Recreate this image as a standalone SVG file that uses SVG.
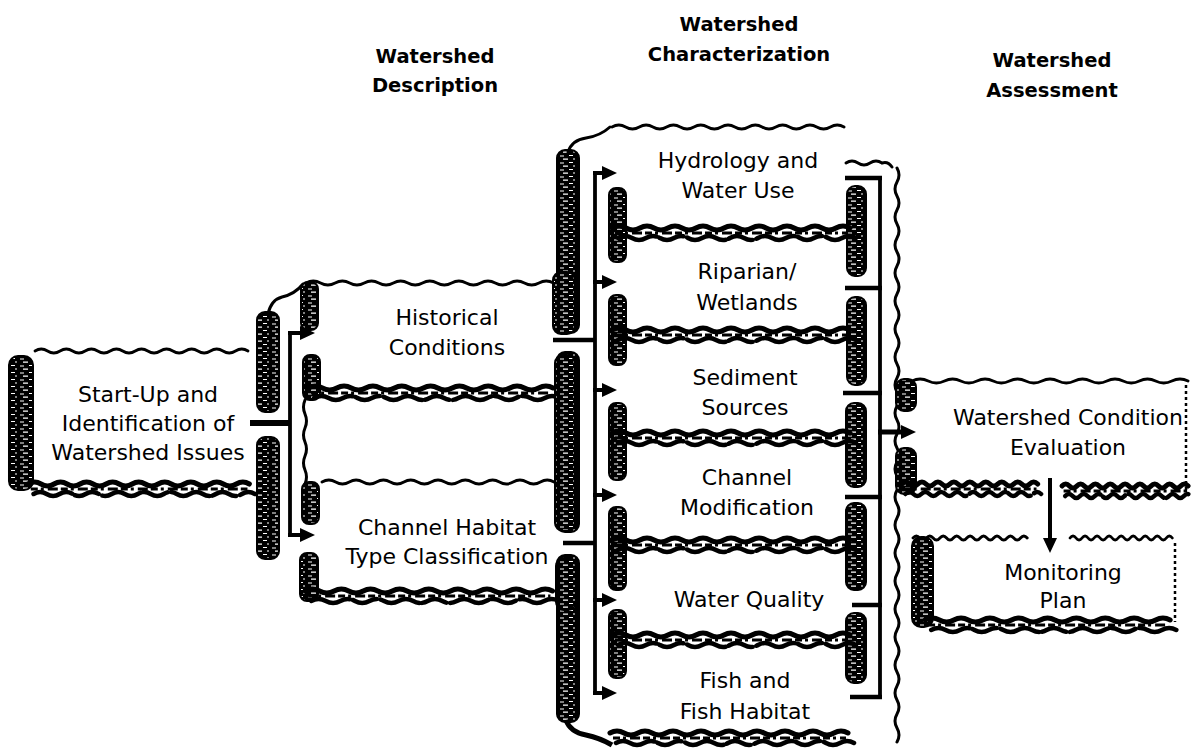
<svg xmlns="http://www.w3.org/2000/svg" xmlns:xlink="http://www.w3.org/1999/xlink" width="1192" height="751" viewBox="0 0 1192 751">
<style>
.wave{stroke-width:2.8}
.bw1{stroke-width:5}
.bw2{stroke-width:4.5;stroke-dasharray:40 3 25 4}
.bd{fill:none;stroke:#000;stroke-width:3;stroke-dasharray:7 3 3 4 10 3}
.hb{fill:url(#hp);stroke:#000;stroke-width:2}
.ln{fill:none;stroke:#000;stroke-width:4.5;stroke-linecap:butt}
.bus{fill:none;stroke:#000;stroke-width:3.8}
.arr{fill:none;stroke:#000;stroke-width:4;marker-end:url(#ah)}
.dot{fill:none;stroke:#000;stroke-width:2.5;stroke-dasharray:3 3}
.cur{fill:none;stroke:#000;stroke-width:3;stroke-linecap:round}
.t{font-family:"DejaVu Sans","Liberation Sans",sans-serif;font-size:22px;text-anchor:middle;fill:#000}
.h{font-family:"DejaVu Sans","Liberation Sans",sans-serif;font-size:19.5px;font-weight:bold;text-anchor:middle;fill:#000}
</style>
<defs>
<path id="wv" fill="none" stroke="#000" stroke-linecap="round" vector-effect="non-scaling-stroke" d="M0,0 q7,-4 14,0 t14,0 t14,0 t14,0 t14,0 t14,0 t14,0 t14,0 t14,0 t14,0 t14,0 t14,0 t14,0 t14,0 t14,0 t14,0 t14,0"/>
<g id="band">
<use xlink:href="#wv" href="#wv" class="bw1"/>
<use xlink:href="#wv" href="#wv" class="bw2" transform="translate(6,10)"/>
<path d="M3,5 H236" class="bd" vector-effect="non-scaling-stroke"/>
</g>
<pattern id="hp" width="18" height="7" patternUnits="userSpaceOnUse">
<rect width="18" height="7" fill="#000"/>
<path d="M2,2 h4 M11,1.5 h4 M5,5.2 h5 M15,5 h2" stroke="#fff" stroke-width="1.2"/>
</pattern>
<marker id="ah" markerWidth="16" markerHeight="15" refX="5" refY="7" orient="auto" markerUnits="userSpaceOnUse">
<path d="M0,0 L15,7 L0,14 z" fill="#000"/>
</marker>
</defs>
<rect width="1192" height="751" fill="#fff"/>

<g id="headers">
<text class="h" x="435" y="63">Watershed</text>
<text class="h" x="435" y="92">Description</text>
<text class="h" x="739" y="31">Watershed</text>
<text class="h" x="739" y="61">Characterization</text>
<text class="h" x="1052" y="67">Watershed</text>
<text class="h" x="1052" y="97">Assessment</text>
</g>

<g id="description-frame">
<rect class="hb" x="257" y="312" width="22" height="100" rx="8"/>
<rect class="hb" x="257" y="437" width="22" height="122" rx="8"/>
<path class="cur" d="M268,314 q3,-14 14,-17 q13,-3 21,-13"/>
<path class="cur" d="M305,400 q-3,7 0,14 t0,14 t0,14 t0,14 t0,14 t0,14"/>
</g>

<g id="characterization-frame">
<rect class="hb" x="557" y="150" width="22" height="183" rx="8"/>
<rect class="hb" x="557" y="352" width="22" height="180" rx="8"/>
<rect class="hb" x="557" y="555" width="22" height="167" rx="8"/>
<path class="cur" d="M568,152 q4,-12 18,-14 q14,-2 24,-11"/>
<path class="bw1" fill="none" stroke="#000" d="M566,720 q4,12 20,15 q14,3 26,10"/>
<path class="cur" d="M846,163 q6,-4 12,0 t12,0 t12,0 q6,-2 10,4"/>
</g>

<g id="assessment-frame">
<path class="cur" d="M897,168 q4,7 0,14 t0,14 t0,14 t0,14 t0,14 t0,14 t0,14 t0,14 t0,14 t0,14 t0,14 t0,14 t0,14 t0,14 t0,14 t0,14 t0,14 t0,14 t0,14 t0,14 t0,14 t0,14 t0,14 t0,14 t0,14 t0,14 t0,14 t0,14 t0,14 t0,14 t0,14 t0,14 t0,14 t0,14 t0,14 t0,14 t0,14 t0,14 t0,14 t0,14 t0,14"/>
<rect class="hb" x="896" y="379" width="20" height="32" rx="8"/>
<rect class="hb" x="896" y="448" width="20" height="46" rx="8"/>
</g>

<g id="startup">
<use href="#wv" class="wave" transform="translate(35,351) scale(0.895,1)"/>
<rect class="hb" x="9" y="356" width="24" height="134" rx="9"/>
<use href="#band" transform="translate(28,484) scale(0.93,1)"/>
<text class="t" x="148" y="402">Start-Up and</text>
<text class="t" x="148" y="431">Identification of</text>
<text class="t" x="148" y="460">Watershed Issues</text>
</g>

<g id="historical">
<use href="#wv" class="wave" transform="translate(306,283) scale(1.04,1)"/>
<rect class="hb" x="301" y="282" width="17" height="48" rx="7"/>
<rect class="hb" x="303" y="355" width="17" height="45" rx="7"/>
<rect class="hb" x="553" y="272" width="22" height="62" rx="8"/>
<use href="#band" transform="translate(308,388) scale(1.03,1)"/>
<text class="t" x="447" y="325">Historical</text>
<text class="t" x="447" y="355">Conditions</text>
</g>

<g id="channel-habitat">
<use href="#wv" class="wave" transform="translate(322,482) scale(0.975,1)"/>
<rect class="hb" x="302" y="482" width="17" height="42" rx="7"/>
<rect class="hb" x="300" y="553" width="18" height="48" rx="7"/>
<rect class="hb" x="555" y="355" width="20" height="176" rx="8"/>
<rect class="hb" x="556" y="558" width="20" height="52" rx="8"/>
<use href="#band" transform="translate(305,591) scale(1.04,1)"/>
<text class="t" x="447" y="535">Channel Habitat</text>
<text class="t" x="447" y="564">Type Classification</text>
</g>

<g id="hydrology">
<use href="#wv" class="wave" transform="translate(612,127) scale(0.975,1)"/>
<rect class="hb" x="609" y="188" width="17" height="74" rx="7"/>
<rect class="hb" x="847" y="186" width="19" height="90" rx="8"/>
<use href="#band" transform="translate(612,228)"/>
<text class="t" x="738" y="168">Hydrology and</text>
<text class="t" x="738" y="198">Water Use</text>
</g>

<g id="riparian">
<rect class="hb" x="609" y="295" width="17" height="70" rx="7"/>
<rect class="hb" x="847" y="297" width="19" height="88" rx="8"/>
<use href="#band" transform="translate(612,330)"/>
<text class="t" x="747" y="279">Riparian/</text>
<text class="t" x="747" y="310">Wetlands</text>
</g>

<g id="sediment">
<rect class="hb" x="609" y="403" width="17" height="77" rx="7"/>
<rect class="hb" x="846" y="403" width="20" height="84" rx="8"/>
<use href="#band" transform="translate(612,433)"/>
<text class="t" x="745" y="385">Sediment</text>
<text class="t" x="745" y="415">Sources</text>
</g>

<g id="channel-modification">
<rect class="hb" x="609" y="507" width="17" height="83" rx="7"/>
<rect class="hb" x="846" y="503" width="20" height="87" rx="8"/>
<use href="#band" transform="translate(612,540)"/>
<text class="t" x="747" y="485">Channel</text>
<text class="t" x="747" y="515">Modification</text>
</g>

<g id="water-quality">
<rect class="hb" x="609" y="610" width="17" height="68" rx="7"/>
<rect class="hb" x="846" y="613" width="20" height="70" rx="8"/>
<use href="#band" transform="translate(612,635)"/>
<text class="t" x="749" y="607">Water Quality</text>
</g>

<g id="fish">
<use href="#band" transform="translate(610,733)"/>
<text class="t" x="745" y="688">Fish and</text>
<text class="t" x="745" y="719">Fish Habitat</text>
</g>

<g id="evaluation">
<use href="#wv" class="wave" transform="translate(912,381) scale(1.16,1)"/>
<path class="dot" d="M1186,385 V492"/>
<use href="#band" transform="translate(902,484) scale(0.57,1)"/>
<use href="#band" transform="translate(1062,486) scale(0.53,1)"/>
<text class="t" x="1068" y="425">Watershed Condition</text>
<text class="t" x="1068" y="455">Evaluation</text>
</g>

<g id="monitoring">
<use href="#wv" class="wave" transform="translate(913,538) scale(0.48,1)"/>
<use href="#wv" class="wave" transform="translate(1070,538) scale(0.43,1)"/>
<rect class="hb" x="912" y="537" width="21" height="90" rx="9"/>
<path class="dot" d="M1175,543 V622"/>
<use href="#band" transform="translate(925,620) scale(1.03,1)"/>
<text class="t" x="1063" y="580">Monitoring</text>
<text class="t" x="1063" y="608">Plan</text>
</g>

<g id="connectors">
<path class="ln" style="stroke-width:6" d="M250,423 H290"/>
<path class="bus" d="M290,333 V535"/>
<path class="arr" d="M288,333 H305"/>
<path class="arr" d="M288,535 H305"/>
<path class="ln" d="M553,340 H595"/>
<path class="ln" d="M563,543 H595"/>
<path class="bus" d="M595,173 V693"/>
<path class="arr" d="M593,173 H607"/>
<path class="arr" d="M593,282 H607"/>
<path class="arr" d="M593,390 H607"/>
<path class="arr" d="M593,495 H607"/>
<path class="arr" d="M593,600 H607"/>
<path class="arr" d="M593,693 H607"/>
<path class="ln" d="M845,178 H882"/>
<path class="ln" d="M845,288 H882"/>
<path class="ln" d="M843,393 H882"/>
<path class="ln" d="M845,497 H882"/>
<path class="ln" d="M852,605 H882"/>
<path class="ln" d="M850,697 H882"/>
<path class="bus" d="M880,176 V699"/>
<path class="arr" style="stroke-width:5" d="M878,432 H906"/>
<path class="arr" d="M1050,478 V543"/>
</g>
</svg>
